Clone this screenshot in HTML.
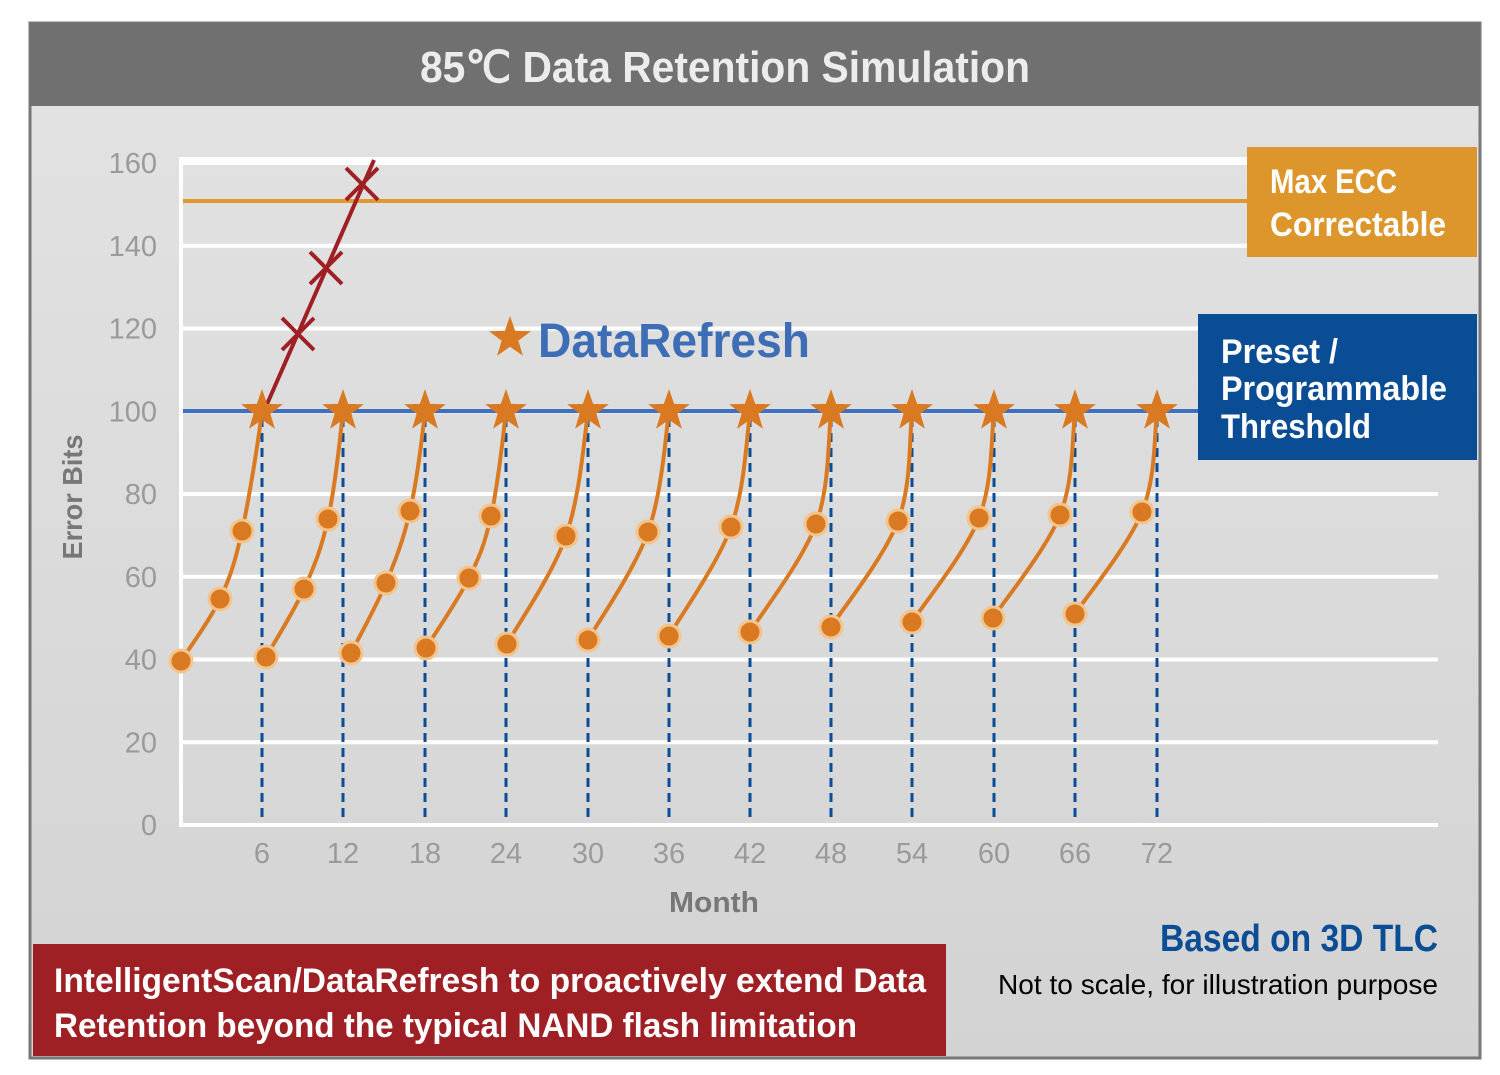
<!DOCTYPE html>
<html><head><meta charset="utf-8"><style>
html,body{margin:0;padding:0;background:#fff;}
svg{display:block;}
text{font-family:"Liberation Sans",sans-serif;}
</style></head><body>
<svg id="s" width="1500" height="1075" viewBox="0 0 1500 1075" xmlns="http://www.w3.org/2000/svg">
<defs>
<linearGradient id="bg" x1="0" y1="0" x2="0" y2="1"><stop offset="0" stop-color="#e3e3e3"/><stop offset="1" stop-color="#d3d3d3"/></linearGradient>
<symbol id="star" viewBox="-1 -1 2 2" overflow="visible"><polygon points="0,-1 0.235,-0.324 0.951,-0.309 0.38,0.124 0.588,0.809 0,0.4 -0.588,0.809 -0.38,0.124 -0.951,-0.309 -0.235,-0.324" fill="#d97a22"/></symbol>
</defs>
<rect x="30" y="23" width="1450" height="1035" fill="url(#bg)" stroke="#777" stroke-width="3"/>
<rect x="30" y="23" width="1450" height="83" fill="#707070"/>
<text x="725" y="82" text-anchor="middle" font-size="44" font-weight="bold" fill="#ececec" textLength="610" lengthAdjust="spacingAndGlyphs">85℃ Data Retention Simulation</text>
<g id="grid" stroke="#fff" stroke-width="4"></g>
<g fill="#9a9a9a" font-size="29" text-anchor="end" id="ylab"></g>
<g fill="#9a9a9a" font-size="29" text-anchor="middle" id="xlab"></g>
<text x="714" y="912" text-anchor="middle" font-size="29" font-weight="bold" fill="#777" textLength="90" lengthAdjust="spacingAndGlyphs">Month</text>
<text transform="translate(82,497) rotate(-90)" text-anchor="middle" font-size="28" font-weight="bold" fill="#777" textLength="125" lengthAdjust="spacingAndGlyphs">Error Bits</text>
<line x1="183" y1="201" x2="1250" y2="201" stroke="#e0992e" stroke-width="4"/>
<rect x="1247" y="147" width="230" height="110" fill="#dd962c"/>
<text x="1270" y="193" font-size="34" font-weight="bold" fill="#fff" textLength="127" lengthAdjust="spacingAndGlyphs">Max ECC</text>
<text x="1270" y="236" font-size="34" font-weight="bold" fill="#fff" textLength="176" lengthAdjust="spacingAndGlyphs">Correctable</text>
<line x1="183" y1="411" x2="1200" y2="411" stroke="#3f6fbf" stroke-width="4"/>
<rect x="1198" y="314" width="279" height="146" fill="#0a4d94"/>
<text x="1221" y="363" font-size="34" font-weight="bold" fill="#fff" textLength="117" lengthAdjust="spacingAndGlyphs">Preset /</text>
<text x="1221" y="400" font-size="34" font-weight="bold" fill="#fff" textLength="226" lengthAdjust="spacingAndGlyphs">Programmable</text>
<text x="1221" y="438" font-size="34" font-weight="bold" fill="#fff" textLength="150" lengthAdjust="spacingAndGlyphs">Threshold</text>
<g id="dash" stroke="#0a4d94" stroke-width="3" stroke-dasharray="9,6"></g>
<g id="curves" fill="none" stroke="#d97a22" stroke-width="4"></g>
<g id="red" stroke="#9e1f24" stroke-width="4" fill="none">
<line x1="264" y1="411" x2="374" y2="160"/>
</g>
<g id="dots"></g>
<g id="stars"></g>
<use href="#star" x="-22" y="-22" width="44" height="44" transform="translate(510,338)"/>
<text x="538" y="357" font-size="48" font-weight="bold" fill="#3d6db5" textLength="272" lengthAdjust="spacingAndGlyphs">DataRefresh</text>
<rect x="33" y="944" width="913" height="112" fill="#9e1f24"/>
<text x="54" y="992" font-size="34" font-weight="bold" fill="#fff" textLength="872" lengthAdjust="spacingAndGlyphs">IntelligentScan/DataRefresh to proactively extend Data</text>
<text x="54" y="1037" font-size="34" font-weight="bold" fill="#fff" textLength="803" lengthAdjust="spacingAndGlyphs">Retention beyond the typical NAND flash limitation</text>
<text x="1438" y="951" text-anchor="end" font-size="38" font-weight="bold" fill="#0a4d94" textLength="278" lengthAdjust="spacingAndGlyphs">Based on 3D TLC</text>
<text x="1438" y="994" text-anchor="end" font-size="28" fill="#000" textLength="440" lengthAdjust="spacingAndGlyphs">Not to scale, for illustration purpose</text>
</svg>
<script>
var NS="http://www.w3.org/2000/svg";
function el(p,t,a,txt){var e=document.createElementNS(NS,t);for(var k in a)e.setAttribute(k,a[k]);if(txt!==undefined)e.textContent=txt;document.getElementById(p).appendChild(e);return e;}
function Y(v){return 825-v*4.1375;}
for(var v=0;v<=160;v+=20){var y=Y(v);if(v>0)el("grid","line",{x1:181,y1:y,x2:1438,y2:y});el("ylab","text",{x:157,y:y+10},String(v));}
el("grid","line",{x1:181,y1:825,x2:1438,y2:825});
el("grid","line",{x1:181,y1:157,x2:181,y2:827});
el("grid","line",{x1:181,y1:159,x2:1438,y2:159});
var sx=[262,343,425,506,588,669,750,831,912,994,1075,1157];
sx.forEach(function(x,i){el("xlab","text",{x:x,y:863},String(6*(i+1)));el("dash","line",{x1:x,y1:418,x2:x,y2:823});});
var cyc=[
[[181,661],[220,599],[242,531]],
[[266,657],[304,589],[328,519]],
[[351,653],[386,583],[410,511]],
[[426,648],[469,578],[491,516]],
[[507,644],[566,536]],[[588,640],[648,532]],[[669,636],[731,527]],[[750,632],[816,524]],
[[831,627],[898,521]],[[912,622],[979,518]],[[993,618],[1060,515]],[[1075,614],[1142,512]]];
cyc.forEach(function(c,i){
 var p=c.concat([[sx[i],411]]);
 var d="M"+p[0][0]+","+p[0][1];
 for(var j=0;j<p.length-1;j++){
  var p0=p[j-1]||p[j],p1=p[j],p2=p[j+1],p3=p[j+2]||[p2[0]+2,p2[1]-60];
  var c1=[p1[0]+(p2[0]-p0[0])/6,p1[1]+(p2[1]-p0[1])/6];
  var c2=[p2[0]-(p3[0]-p1[0])/6,p2[1]-(p3[1]-p1[1])/6];
  d+=" C"+c1+" "+c2+" "+p2;
 }
 el("curves","path",{d:d});
 c.forEach(function(q){el("dots","circle",{cx:q[0],cy:q[1],r:11,fill:"#d97a22",stroke:"#f2c48e","stroke-width":3});});
 el("stars","use",{href:"#star",x:-22,y:-22,width:44,height:44,transform:"translate("+sx[i]+",411)"});
});
[[298,334],[326,268],[362,184]].forEach(function(q){
 el("red","path",{d:"M"+(q[0]-16)+","+(q[1]-16)+"L"+(q[0]+16)+","+(q[1]+16)+"M"+(q[0]+16)+","+(q[1]-16)+"L"+(q[0]-16)+","+(q[1]+16)});
});
</script>
</body></html>
